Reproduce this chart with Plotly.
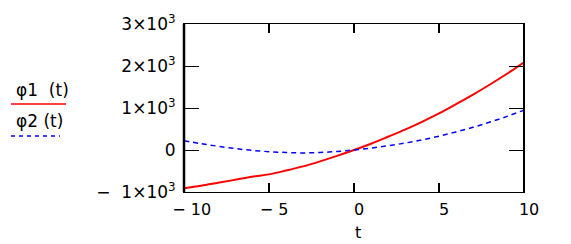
import plotly.graph_objects as go

t = list(range(-10, 11))
phi1 = [-910, -850, -780, -710, -635, -580, -490, -390, -270, -140, 0,
        150, 315, 485, 670, 870, 1090, 1320, 1560, 1815, 2090]
phi2 = [222, 150, 90, 35, -10, -40, -60, -70, -60, -35, 0,
        45, 100, 165, 240, 330, 430, 540, 665, 800, 950]

NB = "\u00a0"
x_tickvals = [-10, -5, 0, 5, 10]
x_ticktext = [NB * 3 + "\u2212" + NB + "10", NB * 2 + "\u2212" + NB + "5",
              NB * 2 + "0", NB * 2 + "5", NB * 2 + "10"]
y_tickvals = [-1000, 0, 1000, 2000, 3000]
y_ticktext = ["\u2212" + NB * 2 + "1\u00d710<sup>3</sup>", "0", "1\u00d710<sup>3</sup>",
              "2\u00d710<sup>3</sup>", "3\u00d710<sup>3</sup>"]
legend_names = ["\u03c61" + NB * 2 + "(t)", "\u03c62" + NB + "(t)"]
x_title = "t"

FONT = "DejaVu Sans"
W, H = 571, 244
L, R, T, B = 184, 524, 24, 192

fig = go.Figure()
fig.add_trace(go.Scatter(x=t, y=phi1, mode="lines", line=dict(color="#ff0000", width=2),
                         line_shape="spline", showlegend=False))
fig.add_trace(go.Scatter(x=t, y=phi2, mode="lines",
                         line=dict(color="#0000ff", width=1.5, dash="5px,4px"),
                         line_shape="spline", showlegend=False))

pw = R - L
ph = B - T

def px(x):
    return (x - L) / pw

def py(y):
    return (B - y) / ph

fig.update_layout(
    width=W, height=H,
    margin=dict(l=L, r=W - R, t=T, b=H - B, pad=0),
    paper_bgcolor="white", plot_bgcolor="white",
    font=dict(family=FONT, size=16, color="black"),
    xaxis=dict(range=[-10, 10], tickvals=x_tickvals, ticktext=x_ticktext,
               showgrid=False, zeroline=False, showline=True, linecolor="black",
               linewidth=1, mirror="ticks", ticks="inside", ticklen=9, tickwidth=2,
               tickcolor="black", ticklabelstandoff=3, tickfont=dict(size=16),
               automargin=False),
    yaxis=dict(range=[-1000, 3000], tickvals=y_tickvals, ticktext=y_ticktext,
               showgrid=False, zeroline=False, showline=True, linecolor="black",
               linewidth=1, mirror="ticks", ticks="inside", ticklen=15, tickwidth=1,
               tickcolor="black", ticklabelstandoff=4, tickfont=dict(size=17),
               automargin=False),
    shapes=[
        dict(type="line", xref="paper", yref="paper", x0=0, x1=0, y0=0, y1=1,
             line=dict(color="black", width=2.5)),
        dict(type="line", xref="paper", yref="paper", x0=1, x1=1, y0=0, y1=1,
             line=dict(color="black", width=2)),
        dict(type="line", xref="paper", yref="paper", x0=px(11), x1=px(66), y0=py(104), y1=py(104),
             line=dict(color="#ff0000", width=1.5)),
        dict(type="line", xref="paper", yref="paper", x0=px(11), x1=px(60), y0=py(136), y1=py(136),
             line=dict(color="#0000ff", width=1.5, dash="4px,4px")),
    ],
    annotations=[
        dict(text=legend_names[0], xref="paper", yref="paper", x=px(14), y=py(90),
             xanchor="left", yanchor="middle", showarrow=False, font=dict(size=17)),
        dict(text=legend_names[1], xref="paper", yref="paper", x=px(14), y=py(121),
             xanchor="left", yanchor="middle", showarrow=False, font=dict(size=17)),
        dict(text=x_title, xref="paper", yref="paper", x=px(358), y=py(232),
             xanchor="center", yanchor="middle", showarrow=False, font=dict(size=16)),
    ],
)

fig.write_html("out.html", config={"displayModeBar": False},
               post_script="document.body.style.margin='0';")
